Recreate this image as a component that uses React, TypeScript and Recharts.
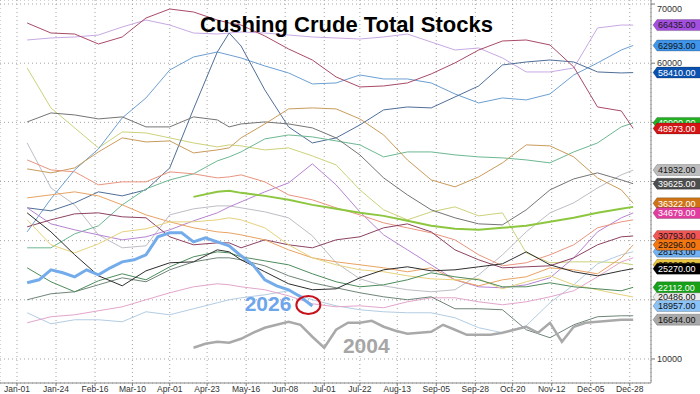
import { LineChart, Line, XAxis, YAxis, CartesianGrid, ReferenceDot } from "recharts";

// day of year for each reading (Jan-01 = 0)
const SAMPLE_DAYS = [6, 20, 34, 48, 62, 76, 90, 104, 118, 125, 132, 146, 160, 174, 188, 202, 216, 230, 244, 258, 272, 286, 300, 314, 328, 342, 356, 363];
const DAYS_2026 = [6, 13, 20, 27, 34, 41, 48, 55, 62, 69, 76, 83, 90, 97, 104, 111, 118, 125, 132, 139, 146, 153, 160, 167, 174];
const DAYS_2004 = [104, 111, 118, 125, 132, 139, 146, 153, 160, 167, 174, 181, 188, 195, 202, 209, 216, 223, 230, 237, 244, 251, 258, 265, 272, 279, 286, 293, 300, 307, 314, 321, 328, 335, 342, 349, 356, 363];

const TICK_DAYS = [0, 23, 46, 68, 90, 112, 135, 158, 181, 202, 224, 247, 270, 292, 315, 338, 361];
const TICK_LABELS = ["Jan-01", "Jan-24", "Feb-16", "Mar-10", "Apr-01", "Apr-23", "May-16", "Jun-08", "Jul-01", "Jul-22", "Aug-13", "Sep-05", "Sep-28", "Oct-20", "Nov-12", "Dec-05", "Dec-28"];
const Y_TICKS = [10000, 20000, 30000, 40000, 50000, 60000, 70000];
// the other levels sit under the end tags
const Y_TICKS_LABELLED = [10000, 60000, 70000];
const X_MAX = 373.5;

// stocks, barrels
const LIGHT_GRAY = [46520, 38920, 36050, 30980, 28790, 29130, 34360, 35380, 35880, 35880, 35550, 34870, 33860, 30820, 26260, 23550, 22370, 21700, 21360, 21700, 24230, 27610, 31490, 34700, 36390, 38920, 41120, 41932];
const YELLOW_GREEN = [59190, 52440, 49060, 45680, 48380, 48210, 47370, 46520, 45850, 46190, 46020, 45340, 45680, 44330, 42810, 38590, 35210, 33520, 34870, 35710, 34190, 34700, 27940, 26260, 26420, 26420, 26260, 25920];
const LAVENDER = [63920, 64260, 64430, 64760, 66120, 67300, 66450, 65100, 64930, 65100, 65270, 65100, 64760, 64430, 64260, 64090, 64430, 64930, 63580, 62230, 62570, 60880, 58520, 58520, 59190, 65950, 66450, 66435];
const MID_BLUE = [31490, 37070, 41960, 45510, 50750, 54120, 58850, 61050, 61890, 61390, 60880, 59530, 58350, 56490, 56660, 58010, 57330, 57330, 56660, 54800, 53280, 54120, 53790, 54800, 58010, 60040, 62230, 62993];
const STEEL_BLUE = [35550, 35040, 36390, 38250, 37570, 38590, 42300, 52270, 61890, 65100, 62910, 55480, 49230, 46520, 47370, 49560, 52100, 52600, 52440, 54290, 56150, 59700, 60200, 60540, 60200, 58520, 58350, 58410];
const GREEN = [28790, 28790, 31150, 32510, 36050, 38750, 40270, 41290, 43480, 44160, 45000, 47200, 47870, 47540, 46860, 46190, 44160, 45000, 45000, 44500, 44160, 43990, 43650, 43150, 45000, 46520, 49230, 49900];
const MAROON = [66790, 65100, 64930, 63240, 64430, 67640, 69160, 68650, 67300, 66790, 66450, 64600, 62400, 60540, 57670, 55980, 56150, 56660, 58180, 60040, 62230, 63750, 63920, 63080, 59360, 52600, 51930, 48973];
const DARK_GRAY = [50070, 51590, 51250, 50580, 50920, 49230, 49230, 50920, 50410, 49230, 49730, 50070, 49730, 49060, 47370, 44500, 40610, 37740, 35210, 33860, 32840, 32670, 35210, 38590, 40440, 41460, 40270, 39625];
const TAN = [42130, 41460, 42300, 45000, 47370, 46690, 46860, 44830, 45340, 45680, 47370, 49730, 52270, 52440, 52270, 50580, 47870, 43650, 40270, 39090, 40780, 43150, 46190, 46020, 44160, 40610, 38590, 36322];
const PURPLE = [35550, 32840, 31830, 30980, 30140, 30650, 31830, 33350, 34700, 35710, 36560, 38250, 39770, 42980, 39430, 34870, 30980, 28450, 25920, 23380, 22200, 22030, 22540, 23720, 27100, 31490, 33860, 34679];
const SALMON = [43650, 41960, 41630, 39430, 39940, 39940, 41630, 41290, 40610, 40780, 41120, 39940, 37740, 36900, 35550, 34360, 33010, 32170, 31320, 30140, 27610, 25750, 26260, 27610, 29300, 32170, 33180, 33520];
const WINE = [32340, 33520, 34530, 34700, 34030, 33860, 30650, 29300, 29630, 29630, 28790, 30140, 29300, 28790, 30140, 30650, 32170, 32840, 31490, 28450, 26760, 25410, 25580, 25750, 27100, 29300, 30650, 30793];
const LIGHT_BLUE = [17810, 15950, 16630, 16630, 16290, 17980, 17470, 18490, 19500, 20010, 20340, 20850, 21530, 20010, 18990, 18320, 17980, 17810, 17810, 16970, 15280, 14430, 15620, 19500, 22540, 26090, 27610, 28143];
const ORANGE = [37230, 37740, 38250, 37570, 36050, 34360, 33180, 32170, 31490, 31320, 30980, 30140, 28450, 27100, 26420, 25920, 25410, 24740, 25410, 23380, 22370, 23380, 23890, 25410, 25070, 24400, 27100, 29296];
const YELLOW = [33520, 29300, 27940, 29460, 31490, 32000, 33180, 33180, 33520, 33860, 33520, 32170, 29300, 27100, 25920, 25070, 24740, 24060, 23550, 23380, 23550, 21860, 23050, 24060, 22540, 21700, 20850, 20486];
const PINK = [16120, 17140, 17470, 18150, 18820, 20010, 21190, 22200, 22710, 22540, 22200, 21700, 20680, 19330, 18820, 18990, 18660, 19670, 20340, 20340, 19670, 19160, 19670, 20510, 21530, 23890, 26420, 27100];
const GRAY_GREEN = [20010, 21020, 21360, 22540, 23720, 23050, 25070, 26420, 27100, 27100, 26760, 25750, 24060, 22880, 22030, 21190, 20510, 20010, 20510, 18490, 18490, 18320, 14940, 13590, 15780, 17140, 17300, 17300];
const DARK_GREEN = [25410, 23050, 21360, 23220, 24400, 23380, 25580, 27270, 28110, 27940, 27270, 26590, 25920, 24400, 23050, 22200, 22540, 23380, 24570, 23890, 23380, 22200, 22200, 22880, 22200, 21860, 21530, 22112];
const BLACK = [34700, 31490, 27610, 24060, 22370, 24900, 26260, 26420, 28450, 28110, 26760, 24740, 22710, 21700, 21860, 23720, 25070, 25580, 24900, 25070, 25580, 26090, 28110, 25920, 24740, 24060, 24900, 25270];
const AVERAGE = [null, null, null, null, null, null, null, 37400, 38250, 38420, 38080, 37570, 36900, 36050, 35380, 34700, 34190, 33350, 32510, 32000, 31830, 32170, 32510, 33180, 33860, 34700, 35380, 35710];
const Y2004 = [11900, 12570, 12910, 12740, 13420, 14430, 15280, 15780, 16290, 15780, 13760, 11900, 14940, 16120, 16120, 16460, 15450, 14770, 14260, 14430, 14600, 15780, 14940, 14090, 14090, 14090, 14430, 14940, 15450, 14430, 16120, 12910, 15450, 16120, 16290, 16460, 16630, 16644];
const Y2026 = [22880, 23380, 25070, 24570, 23890, 25070, 24230, 25410, 26420, 26760, 27610, 30650, 31320, 31320, 29800, 30480, 29800, 29130, 27440, 25920, 23380, 22370, 21700, 20510, 18957];

const FONT = "'Liberation Sans', Arial, sans-serif";

type Tag = { fill: string; ink: string };
type Series = { key: string; color: string; width?: number; days: number[]; values: (number | null)[]; tag?: Tag };

// drawing order: later series sit on top (lines and their end tags)
const SERIES: Series[] = [
  { key: "lightGray", color: "#bdbdc6", days: SAMPLE_DAYS, values: LIGHT_GRAY, tag: { fill: "#bcbcbc", ink: "#111" } },
  { key: "yellowGreen", color: "#cdd27a", days: SAMPLE_DAYS, values: YELLOW_GREEN, tag: { fill: "#e8c440", ink: "#111" } },
  { key: "lavender", color: "#c8a9e3", days: SAMPLE_DAYS, values: LAVENDER, tag: { fill: "#a44fe0", ink: "#1a1a1a" } },
  { key: "midBlue", color: "#6c9fd2", days: SAMPLE_DAYS, values: MID_BLUE, tag: { fill: "#3f95ea", ink: "#111" } },
  { key: "steelBlue", color: "#4f6f98", days: SAMPLE_DAYS, values: STEEL_BLUE, tag: { fill: "#0a52ae", ink: "#fff" } },
  { key: "green", color: "#6cb892", days: SAMPLE_DAYS, values: GREEN, tag: { fill: "#22b022", ink: "#fff" } },
  { key: "maroon", color: "#a94a66", days: SAMPLE_DAYS, values: MAROON, tag: { fill: "#d31515", ink: "#fff" } },
  { key: "darkGray", color: "#747474", days: SAMPLE_DAYS, values: DARK_GRAY, tag: { fill: "#4d4d4d", ink: "#fff" } },
  { key: "tan", color: "#c99c5c", days: SAMPLE_DAYS, values: TAN, tag: { fill: "#cf7416", ink: "#fff" } },
  { key: "purple", color: "#b784d3", days: SAMPLE_DAYS, values: PURPLE, tag: { fill: "#e03d9e", ink: "#fff" } },
  { key: "salmon", color: "#e9957f", days: SAMPLE_DAYS, values: SALMON },
  { key: "wine", color: "#8d4262", days: SAMPLE_DAYS, values: WINE, tag: { fill: "#f15656", ink: "#111" } },
  { key: "lightBlue", color: "#b3cde3", days: SAMPLE_DAYS, values: LIGHT_BLUE, tag: { fill: "#72b2f2", ink: "#111" } },
  { key: "orange", color: "#e9a363", days: SAMPLE_DAYS, values: ORANGE, tag: { fill: "#f27612", ink: "#111" } },
  { key: "yellow", color: "#e6d27c", days: SAMPLE_DAYS, values: YELLOW, tag: { fill: "#ececec", ink: "#111" } },
  { key: "pink", color: "#e3a5cb", days: SAMPLE_DAYS, values: PINK },
  { key: "grayGreen", color: "#6f8577", days: SAMPLE_DAYS, values: GRAY_GREEN },
  { key: "darkGreen", color: "#4e8c5c", days: SAMPLE_DAYS, values: DARK_GREEN, tag: { fill: "#18a018", ink: "#fff" } },
  { key: "black", color: "#2e2e2e", days: SAMPLE_DAYS, values: BLACK, tag: { fill: "#000", ink: "#fff" } },
  { key: "average", color: "#8dc63f", width: 2, days: SAMPLE_DAYS, values: AVERAGE },
  { key: "y2004", color: "#a9a9a9", width: 2.5, days: DAYS_2004, values: Y2004, tag: { fill: "#a9a9a9", ink: "#111" } },
  { key: "y2026", color: "#74aceb", width: 3, days: DAYS_2026, values: Y2026, tag: { fill: "#8cc3f7", ink: "#111" } },
];

const toPoints = (days: number[], values: (number | null)[]) => days.map((day, i) => ({ day, v: values[i] }));
const lastValue = (values: (number | null)[]) => values[values.length - 1] as number;

// value tag pinned to the right-hand axis
const EndTag = ({ cx, cy, tag, value }: any) => {
  const tip = cx + 2;
  const h = 5.5;
  return (
    <g>
      <polygon
        points={`${tip},${cy} ${tip + 4},${cy - h} ${tip + 60},${cy - h} ${tip + 60},${cy + h} ${tip + 4},${cy + h}`}
        fill={tag.fill}
        stroke="rgba(0,0,0,0.35)"
        strokeWidth={0.6}
      />
      <text x={tip + 5} y={cy + 3.3} fontSize={9} fill={tag.ink} fontFamily={FONT}>
        {value.toFixed(2)}
      </text>
    </g>
  );
};

const XTick = ({ x, y, payload }: any) => (
  <text x={x} y={y + 6} textAnchor="middle" fontSize={8.5} fill="#333" fontFamily={FONT}>
    {TICK_LABELS[TICK_DAYS.indexOf(payload.value)]}
  </text>
);

const YTick = ({ x, y, payload }: any) =>
  Y_TICKS_LABELLED.includes(payload.value) ? (
    <text x={x} y={y + 3} fontSize={9} fill="#333" fontFamily={FONT}>
      {payload.value}
    </text>
  ) : (
    <g />
  );

const CircleNote = ({ cx, cy }: any) => (
  <g>
    <ellipse cx={cx - 4} cy={cy - 1} rx={12} ry={9} fill="none" stroke="#c8101a" strokeWidth={2} />
    <text x={cx - 21} y={cy + 5} textAnchor="end" fontSize={21} fontWeight={700} fill="#6ea6ec" fontFamily={FONT}>
      2026
    </text>
  </g>
);

const YearNote = ({ cx, cy }: any) => (
  <text x={cx} y={cy} fontSize={21} fontWeight={700} fill="#a6a6a6" fontFamily={FONT}>
    2004
  </text>
);

export default function App() {
  return (
    <div style={{ position: "absolute", left: 0, top: 0, width: 700, height: 394, background: "#fff", overflow: "hidden" }}>
      <LineChart width={700} height={394} margin={{ top: 0, right: 0, bottom: 0, left: 0 }}>
        <CartesianGrid stroke="#a4a4a4" strokeDasharray="1 3" />
        <XAxis
          type="number"
          dataKey="day"
          domain={[-10, X_MAX]}
          ticks={TICK_DAYS}
          allowDataOverflow
          height={11}
          tickSize={3}
          tickMargin={0}
          axisLine={{ stroke: "#888" }}
          tickLine={{ stroke: "#777" }}
          tick={<XTick />}
        />
        <YAxis
          orientation="right"
          width={49}
          domain={[5940, 70680]}
          ticks={Y_TICKS}
          allowDataOverflow
          tickSize={4}
          tickMargin={2}
          axisLine={{ stroke: "#888" }}
          tickLine={{ stroke: "#777" }}
          tick={<YTick />}
        />
        {SERIES.map((s) => (
          <Line
            key={s.key}
            data={toPoints(s.days, s.values)}
            dataKey="v"
            type="linear"
            stroke={s.color}
            strokeWidth={s.width ?? 1}
            dot={false}
            activeDot={false}
            isAnimationActive={false}
          />
        ))}
        {SERIES.filter((s) => s.tag).map((s) => (
          <ReferenceDot
            key={`tag-${s.key}`}
            x={X_MAX}
            y={lastValue(s.values)}
            r={0}
            ifOverflow="visible"
            shape={<EndTag tag={s.tag} value={lastValue(s.values)} />}
          />
        ))}
        <ReferenceDot x={174} y={18957} r={0} shape={<CircleNote />} ifOverflow="visible" />
        <ReferenceDot x={192} y={11050} r={0} shape={<YearNote />} ifOverflow="visible" />
      </LineChart>
      <svg width={700} height={394} style={{ position: "absolute", left: 0, top: 0, pointerEvents: "none" }}>
        <text x={200} y={32} fontSize={22} fontWeight={700} fill="#000" fontFamily={FONT}>
          Cushing Crude Total Stocks
        </text>
      </svg>
    </div>
  );
}
